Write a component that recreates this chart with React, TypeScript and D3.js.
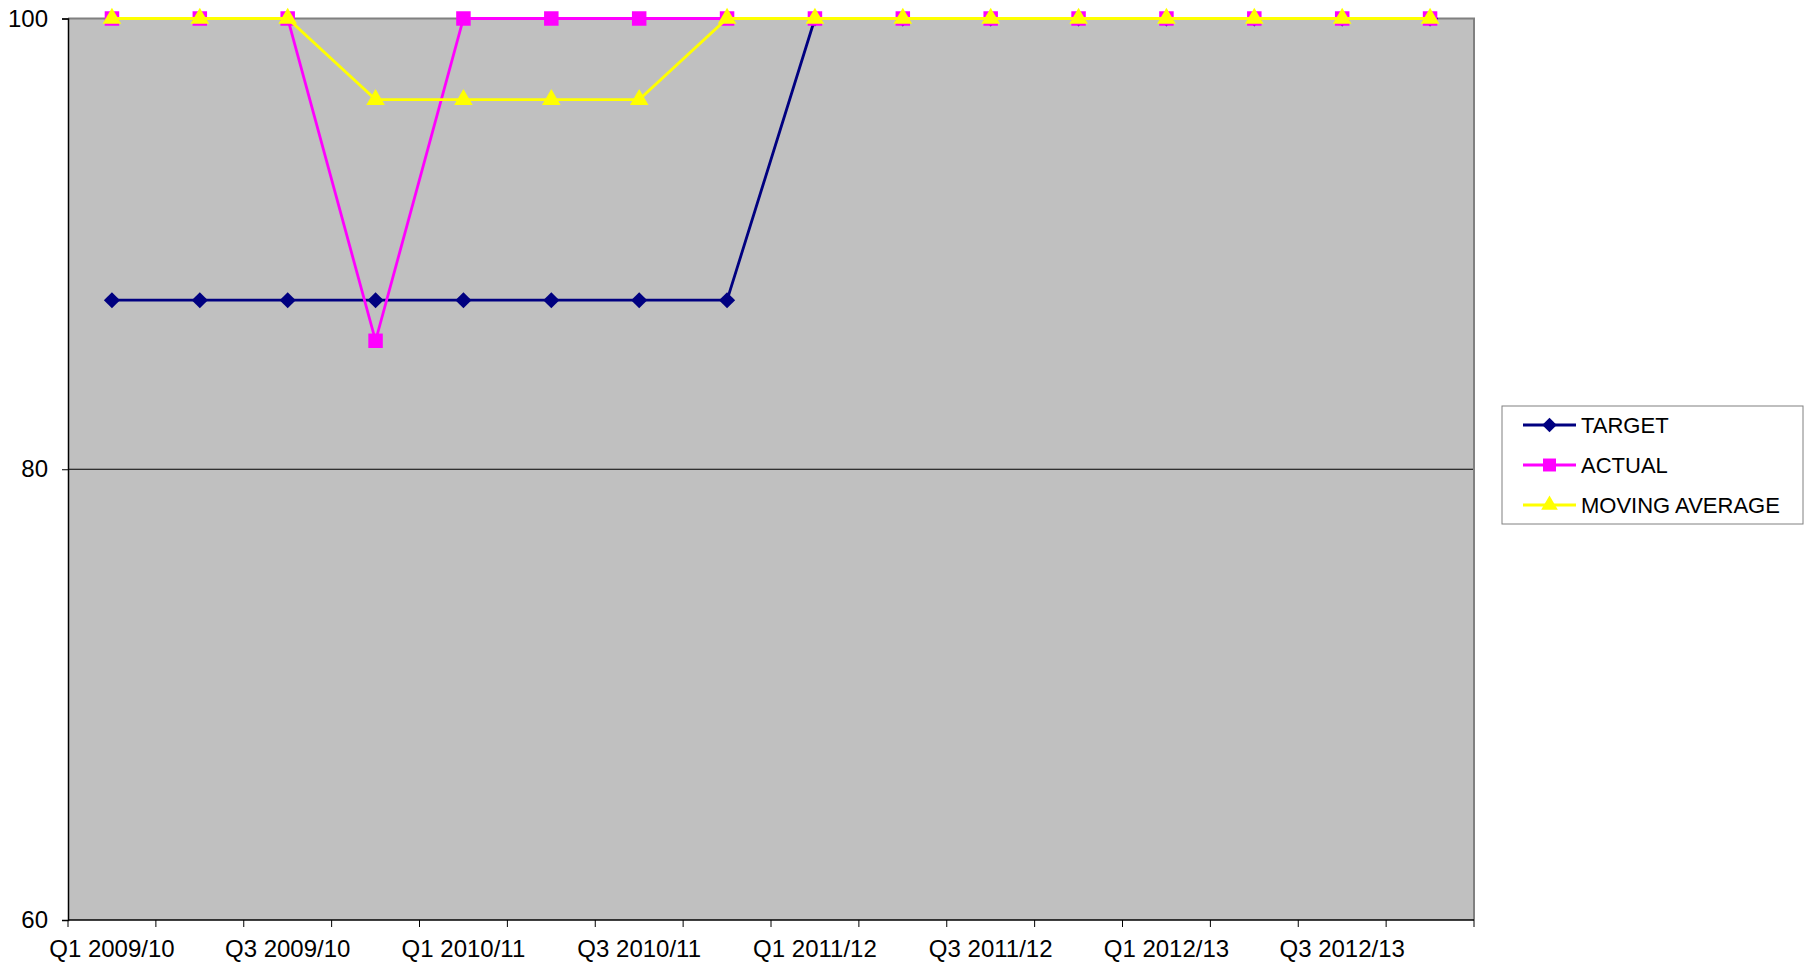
import { useEffect, useRef } from "react";
import * as d3 from "d3";

const categories = [
  "Q1 2009/10", "Q2 2009/10", "Q3 2009/10", "Q4 2009/10",
  "Q1 2010/11", "Q2 2010/11", "Q3 2010/11", "Q4 2010/11",
  "Q1 2011/12", "Q2 2011/12", "Q3 2011/12", "Q4 2011/12",
  "Q1 2012/13", "Q2 2012/13", "Q3 2012/13", "Q4 2012/13",
];
const target = [87.5, 87.5, 87.5, 87.5, 87.5, 87.5, 87.5, 87.5, 100, 100, 100, 100, 100, 100, 100, 100];
const actual = [100, 100, 100, 85.7, 100, 100, 100, 100, 100, 100, 100, 100, 100, 100, 100, 100];
const movingAverage = [100, 100, 100, 96.4, 96.4, 96.4, 96.4, 100, 100, 100, 100, 100, 100, 100, 100, 100];
const yTicks = [60, 80, 100];

// square rotated 45deg, Excel-style diamond
const diamond = {
  draw(ctx: any, size: number) {
    const r = Math.sqrt(size / 2);
    ctx.moveTo(0, -r);
    ctx.lineTo(r, 0);
    ctx.lineTo(0, r);
    ctx.lineTo(-r, 0);
    ctx.closePath();
  },
};

const series = [
  { name: "TARGET", values: target, color: "#000080", symbol: diamond, size: 130 },
  { name: "ACTUAL", values: actual, color: "#FF00FF", symbol: d3.symbolSquare, size: 210 },
  { name: "MOVING AVERAGE", values: movingAverage, color: "#FFFF00", symbol: d3.symbolTriangle, size: 150 },
];

export default function App() {
  const ref = useRef<SVGSVGElement>(null);

  useEffect(() => {
    if (!ref.current) return;
    const el = ref.current;
    const width = 1809;
    const height = 968;
    const plot = { left: 68, top: 18.5, right: 1474, bottom: 920 };

    d3.select(el).selectAll("*").remove();
    const svg = d3.select(el).attr("width", width).attr("height", height);
    const font = "Liberation Sans, Arial, sans-serif";

    const x = d3.scaleBand<string>().domain(categories).range([plot.left, plot.right]);
    const y = d3.scaleLinear().domain([60, 100]).range([plot.bottom, plot.top]);

    // Plot background
    svg.append("rect")
      .attr("x", plot.left).attr("y", plot.top)
      .attr("width", plot.right - plot.left).attr("height", plot.bottom - plot.top)
      .attr("fill", "#C0C0C0");

    // Gridlines
    svg.append("g")
      .selectAll("line")
      .data(yTicks.filter((t) => t !== 60 && t !== 100))
      .join("line")
      .attr("x1", plot.left).attr("x2", plot.right)
      .attr("y1", (d) => y(d)).attr("y2", (d) => y(d))
      .attr("stroke", "#000").attr("stroke-width", 1);

    // Top/right frame
    svg.append("path")
      .attr("d", `M${plot.left},${plot.top}H${plot.right}V${plot.bottom}`)
      .attr("fill", "none").attr("stroke", "#808080").attr("stroke-width", 2);

    // Y axis
    const yAxis = svg.append("g")
      .attr("transform", `translate(${plot.left},0)`)
      .call(d3.axisLeft(y).tickValues(yTicks).tickSize(6).tickPadding(14).tickFormat(d3.format("d")));
    yAxis.select(".domain").attr("stroke", "#000").attr("stroke-width", 1.5);
    yAxis.selectAll(".tick line").attr("stroke", "#000");
    yAxis.selectAll("text").style("font-family", font).style("font-size", "24px").attr("fill", "#000");

    // X axis: ticks at category boundaries
    const bounds = d3.range(categories.length + 1).map((i) => plot.left + i * x.bandwidth());
    const xg = svg.append("g");
    xg.append("line")
      .attr("x1", plot.left).attr("x2", plot.right)
      .attr("y1", plot.bottom).attr("y2", plot.bottom)
      .attr("stroke", "#000").attr("stroke-width", 1.5);
    xg.selectAll("line.tick")
      .data(bounds)
      .join("line")
      .attr("class", "tick")
      .attr("x1", (d) => d).attr("x2", (d) => d)
      .attr("y1", plot.bottom).attr("y2", plot.bottom + 7)
      .attr("stroke", "#000");
    xg.selectAll("text")
      .data(categories.filter((_, i) => i % 2 === 0))
      .join("text")
      .attr("x", (d) => (x(d) as number) + x.bandwidth() / 2)
      .attr("y", plot.bottom + 37)
      .attr("text-anchor", "middle")
      .style("font-family", font).style("font-size", "24px")
      .text((d) => d);

    // Series
    const line = d3.line<number>()
      .x((_, i) => (x(categories[i]) as number) + x.bandwidth() / 2)
      .y((d) => y(d));

    series.forEach((s) => {
      svg.append("path")
        .datum(s.values)
        .attr("d", line)
        .attr("fill", "none")
        .attr("stroke", s.color)
        .attr("stroke-width", 2.8);
      svg.append("g")
        .selectAll("path")
        .data(s.values)
        .join("path")
        .attr("transform", (d, i) => `translate(${(x(categories[i]) as number) + x.bandwidth() / 2},${y(d)})`)
        .attr("d", d3.symbol().type(s.symbol as any).size(s.size)())
        .attr("fill", s.color);
    });

    // Legend
    const lg = svg.append("g");
    lg.append("rect")
      .attr("x", 1502).attr("y", 406).attr("width", 301).attr("height", 118)
      .attr("fill", "#fff").attr("stroke", "#808080").attr("stroke-width", 1);
    series.forEach((s, i) => {
      const ly = 425 + i * 40;
      lg.append("line")
        .attr("x1", 1523).attr("x2", 1576).attr("y1", ly).attr("y2", ly)
        .attr("stroke", s.color).attr("stroke-width", 2.8);
      lg.append("path")
        .attr("transform", `translate(1549.5,${ly})`)
        .attr("d", d3.symbol().type(s.symbol as any).size(s.size * 0.8)())
        .attr("fill", s.color);
      lg.append("text")
        .attr("x", 1581).attr("y", ly + 8)
        .style("font-family", font).style("font-size", "22px")
        .text(s.name);
    });
  }, []);

  return <svg ref={ref} style={{ position: "absolute", left: 0, top: 0 }} />;
}
